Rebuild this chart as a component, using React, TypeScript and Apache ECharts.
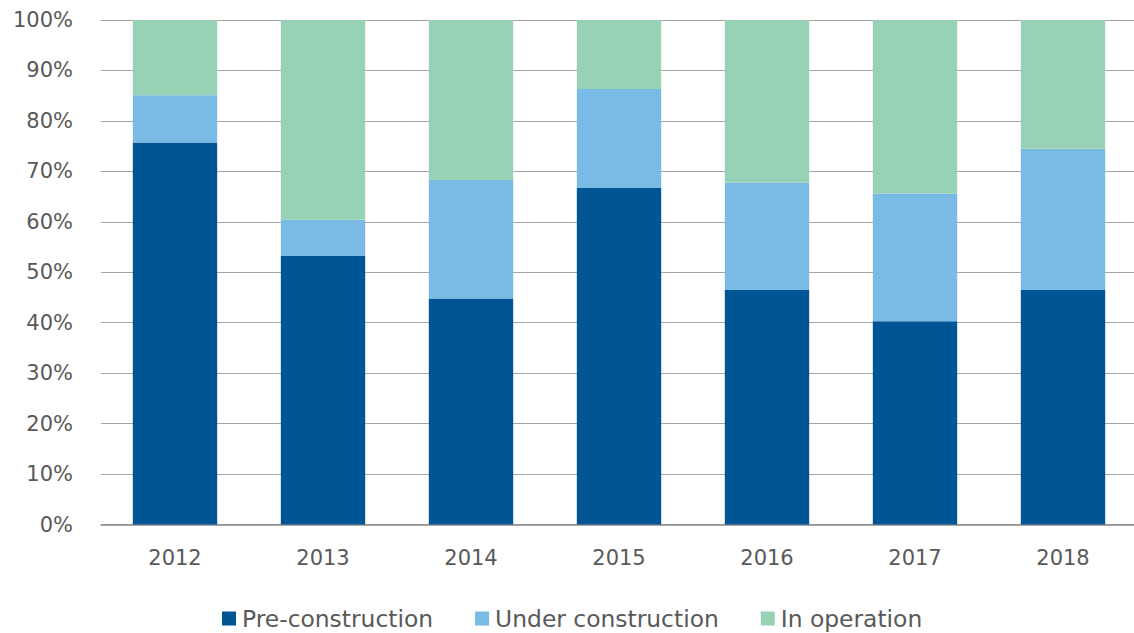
import React, { useEffect, useRef } from "react";
import * as echarts from "echarts";

const categories = ["2012", "2013", "2014", "2015", "2016", "2017", "2018"];
const preConstruction = [75.7, 53.2, 44.8, 66.7, 46.5, 40.3, 46.5];
const underConstruction = [9.4, 7.2, 23.5, 19.6, 21.3, 25.3, 28.0];
const inOperation = [14.9, 39.6, 31.7, 13.7, 32.2, 34.4, 25.5];
const yTicks = [0, 10, 20, 30, 40, 50, 60, 70, 80, 90, 100];

const FONT = "'DejaVu Sans', 'Noto Sans', sans-serif";
const TEXT = "#595959";

export default function App() {
  const ref = useRef<HTMLDivElement>(null);
  useEffect(() => {
    if (!ref.current) return;
    const chart = echarts.init(ref.current, undefined, { renderer: "svg" });
    const mk = (name: string, data: number[], color: string) => ({
      name,
      type: "bar",
      stack: "total",
      data,
      barWidth: "57%",
      itemStyle: { color },
      emphasis: { disabled: true },
    });
    chart.setOption({
      animation: false,
      textStyle: { fontFamily: FONT },
      grid: { left: 101, top: 20, width: 1036, height: 504.5, containLabel: false },
      legend: {
        top: 607,
        left: 222,
        padding: 0,
        itemWidth: 14,
        itemHeight: 14,
        itemGap: 42,
        icon: "rect",
        textStyle: { fontFamily: FONT, fontSize: 23.4, color: TEXT, padding: [0, 0, 0, 1] },
        data: ["Pre-construction", "Under construction", "In operation"],
      },
      xAxis: {
        type: "category",
        data: categories,
        axisTick: { show: false },
        axisLine: { lineStyle: { color: "#8c8c8c", width: 1.5 } },
        axisLabel: { fontFamily: FONT, fontSize: 21, color: TEXT, margin: 23 },
      },
      yAxis: {
        type: "value",
        min: yTicks[0],
        max: yTicks[yTicks.length - 1],
        interval: 10,
        axisLine: { show: false },
        axisTick: { show: false },
        splitLine: { lineStyle: { color: "#a6a6a6", width: 1 } },
        axisLabel: {
          fontFamily: FONT,
          fontSize: 21,
          color: TEXT,
          margin: 28,
          formatter: (v: number) => `${v}%`,
        },
      },
      series: [
        mk("Pre-construction", preConstruction, "#005594"),
        mk("Under construction", underConstruction, "#7abbe6"),
        mk("In operation", inOperation, "#97d2b6"),
      ],
    });
    return () => chart.dispose();
  }, []);
  return (
    <div style={{ position: "absolute", left: 0, top: 0, width: 1134, height: 633, overflow: "hidden" }}>
      <div ref={ref} style={{ width: 1140, height: 633 }} />
    </div>
  );
}
